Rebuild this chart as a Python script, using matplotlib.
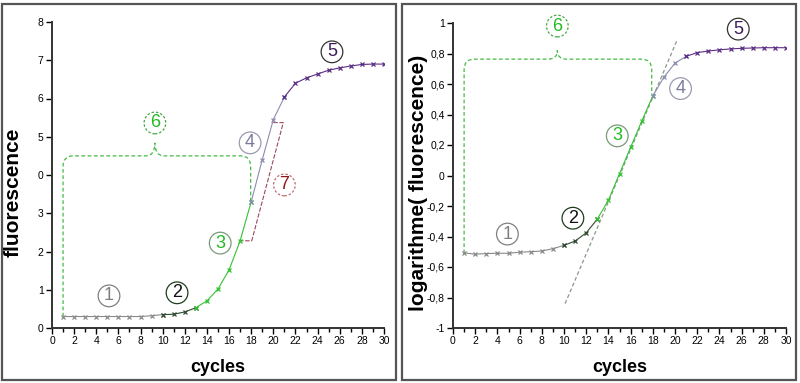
import matplotlib.pyplot as plt
import numpy as np
from matplotlib.patches import Rectangle, PathPatch
from matplotlib.path import Path

plt.rcParams['font.family'] = ['Liberation Sans', 'DejaVu Sans']

# cycles 1..30
cycles = np.arange(1, 31)

# fluorescence
fluo = [0.30, 0.30, 0.30, 0.30, 0.30, 0.30, 0.30, 0.30, 0.32, 0.35,
        0.36, 0.42, 0.53, 0.71, 1.02, 1.52, 2.28, 3.30, 4.40, 5.45,
        6.04, 6.40, 6.54, 6.64, 6.74, 6.80, 6.85, 6.89, 6.90, 6.90]

# log of fluorescence
logfluo = [-0.507, -0.516, -0.512, -0.51, -0.51, -0.503, -0.50, -0.495, -0.48, -0.458,
           -0.43, -0.376, -0.286, -0.162, 0.012, 0.185, 0.356, 0.522, 0.645, 0.737,
           0.781, 0.806, 0.816, 0.824, 0.83, 0.834, 0.836, 0.838, 0.838, 0.838]

# phases: (first cycle, last cycle, line colour)
phases = [(1, 10, '#8a8a8a'), (10, 13, '#2f4a2f'), (13, 18, '#33c233'),
          (18, 21, '#8c8cb0'), (21, 30, '#5a2d85')]

left_ticklabels = ['0', '1', '2', '3', '0', '5', '6', '7', '8']
right_ticks = [-1, -0.8, -0.6, -0.4, -0.2, 0, 0.2, 0.4, 0.6, 0.8, 1]
right_ticklabels = ['-1', '-0,8', '-0,6', '-0,4', '-0,2', '0', '0,2', '0,4', '0,6', '0,8', '1']

fig = plt.figure(figsize=(8, 3.83), dpi=100)

# panel borders
for x0 in (2, 402):
    fig.patches.append(Rectangle((x0 / 800, 3 / 383), 394 / 800, 376 / 383,
                                 transform=fig.transFigure, fill=False,
                                 ec='#555555', lw=1.6))

axL = fig.add_axes([52 / 800, 55 / 383, 332 / 800, 306 / 383])
axR = fig.add_axes([453 / 800, 55 / 383, 333 / 800, 305 / 383])


def draw_curve(ax, y):
    for a, b, c in phases:
        xs = cycles[a - 1:b]
        ys = y[a - 1:b]
        ax.plot(xs, ys, color=c, lw=0.8, marker='x', ms=3, mew=0.9, zorder=3)


def style(ax):
    ax.set_xlim(0, 30)
    ax.spines['top'].set_visible(False)
    ax.spines['right'].set_visible(False)
    for s in ('left', 'bottom'):
        ax.spines[s].set_linewidth(1.4)
        ax.spines[s].set_color('#333333')
    ax.set_xticks(np.arange(0, 31, 2))
    ax.set_xticks(np.arange(0, 31, 1), minor=True)
    ax.tick_params(axis='both', which='major', labelsize=7.5, length=4, width=1, pad=2)
    ax.tick_params(axis='x', which='minor', length=3, width=1)
    ax.set_xlabel('cycles', fontsize=13, fontweight='bold', labelpad=9)


def circle(ax, x, y, s, tc, ec, ls='-'):
    ax.text(x, y, s, fontsize=13, color=tc, ha='center', va='center', zorder=5,
            bbox=dict(boxstyle='circle,pad=0.13', fc='white', ec=ec, lw=0.9, ls=ls))


def brace(ax, x0, x1, y0, y1, yh, xn, yn, rx, ry, dn):
    verts = [(x0, y0), (x0, yh - ry), (x0, yh), (x0 + rx, yh),
             (xn - dn, yh), (xn, yh), (xn, yn),
             (xn, yh), (xn + dn, yh),
             (x1 - rx, yh), (x1, yh), (x1, yh - ry), (x1, y1)]
    codes = [Path.MOVETO, Path.LINETO, Path.CURVE3, Path.CURVE3,
             Path.LINETO, Path.CURVE3, Path.CURVE3,
             Path.CURVE3, Path.CURVE3,
             Path.LINETO, Path.CURVE3, Path.CURVE3, Path.LINETO]
    ax.add_patch(PathPatch(Path(verts, codes), fill=False, ec='#44bb44',
                           lw=0.9, ls=(0, (3, 2)), zorder=2))


# ---- left panel
style(axL)
axL.set_ylim(0, 8)
axL.set_yticks(range(9))
axL.set_yticklabels(left_ticklabels)
axL.set_ylabel('fluorescence', fontsize=15, fontweight='bold')
axL.yaxis.set_label_coords(-0.087, 0.444)
draw_curve(axL, fluo)

brace(axL, 1.0, 17.95, 0.3, 3.3, 4.5, 9.3, 4.84, 0.9, 0.28, 0.8)
# bracket 7
axL.plot([20.0, 20.9, 18.05, 17.05], [5.37, 5.37, 2.28, 2.28],
         color='#9a4a5a', lw=0.8, ls=(0, (4, 1.5)), zorder=2)

circle(axL, 5.15, 0.84, '1', '#808080', '#808080')
circle(axL, 11.3, 0.92, '2', '#111111', '#1e3d1e')
circle(axL, 15.2, 2.22, '3', '#22bb22', '#7a9a7a')
circle(axL, 17.9, 4.84, '4', '#7a7aa0', '#9a9ab0')
circle(axL, 25.3, 7.22, '5', '#3a1a5a', '#333333')
circle(axL, 9.3, 5.36, '6', '#22bb22', '#44aa44', ls=(0, (2, 1.5)))
circle(axL, 21.0, 3.74, '7', '#8b1a1a', '#c07070', ls=(0, (2, 1.5)))

# ---- right panel
style(axR)
axR.set_ylim(-1, 1)
axR.set_yticks(right_ticks)
axR.set_yticklabels(right_ticklabels)
axR.set_ylabel('logarithme( fluorescence)', fontsize=15, fontweight='bold')
axR.yaxis.set_label_coords(-0.075, 0.477)
draw_curve(axR, logfluo)

# tangent of exponential phase
axR.plot([10.1, 20.2], [-0.84, 0.89], color='#889988', lw=0.9, ls=(0, (3, 2)), zorder=2)

brace(axR, 1.0, 17.9, -0.51, 0.53, 0.763, 9.4, 0.82, 0.9, 0.07, 0.8)

circle(axR, 4.9, -0.384, '1', '#808080', '#808080')
circle(axR, 10.8, -0.28, '2', '#111111', '#1e3d1e')
circle(axR, 14.8, 0.26, '3', '#22bb22', '#7a9a7a')
circle(axR, 20.5, 0.57, '4', '#7a7aa0', '#9a9ab0')
circle(axR, 25.7, 0.96, '5', '#3a1a5a', '#333333')
circle(axR, 9.4, 0.98, '6', '#22bb22', '#44aa44', ls=(0, (2, 1.5)))

fig.savefig('out.png', dpi=100)
